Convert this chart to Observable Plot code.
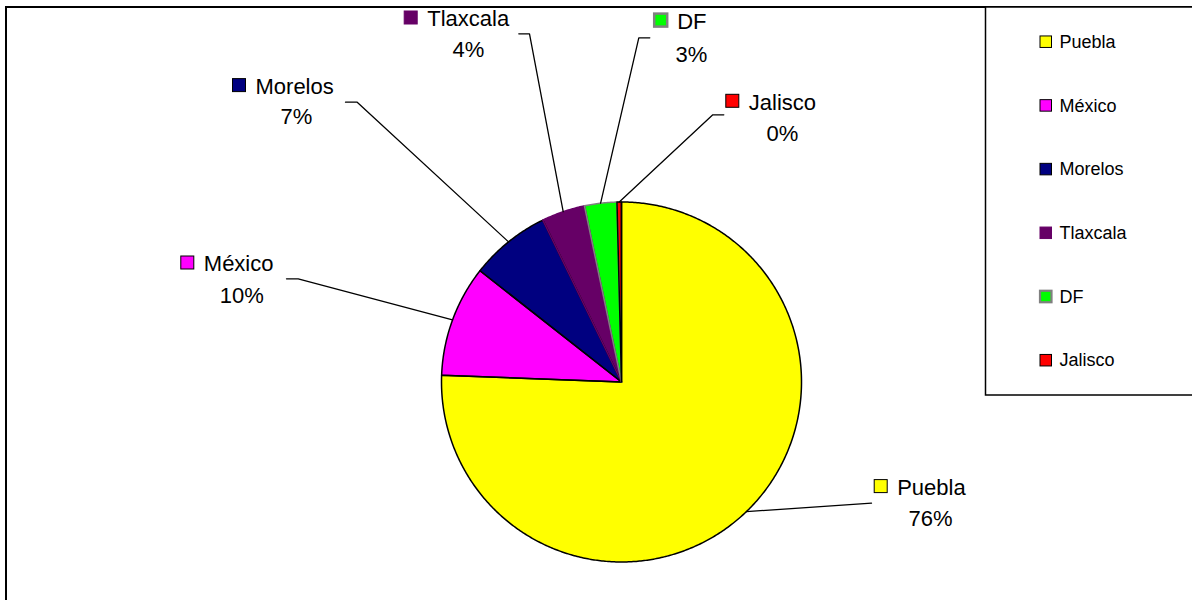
<!DOCTYPE html>
<html><head><meta charset="utf-8">
<script src="https://cdn.jsdelivr.net/npm/d3@7"></script>
<script src="https://cdn.jsdelivr.net/npm/@observablehq/plot@0.6"></script>
<style>html,body{margin:0;padding:0;background:#fff;overflow:hidden} svg{display:block}</style>
</head><body><div id="chart"></div>
<script>
// ---- data ----
const states = ["Puebla", "México", "Morelos", "Tlaxcala", "DF", "Jalisco"];
const shares = [75.6, 10.0, 7.2, 3.9, 2.9, 0.4];
const fillColors = ["#ffff00", "#ff00ff", "#000080", "#660066", "#00ff00", "#ff0000"];
const edgeColors = ["#000000", "#000000", "#000000", "#660066", "#808080", "#000000"];

// ---- layout ----
const W = 1192, H = 600, CX = 621, CY = 381.5, R = 180;
const FONT = "'Liberation Sans', Arial, sans-serif";
// label layout (pixel positions): name start x / baseline, percent centre x / baseline, leader elbow & end
const labelPos = {
  "Puebla":   {nx: 896.7, ny: 494.3, px: 930,   py: 525.7, elbow: null,          end: [871, 502.7]},
  "México":   {nx: 203.3, ny: 270.7, px: 241.3, py: 302.3, elbow: [297.7, 278.3], end: [286, 278.3]},
  "Morelos":  {nx: 255,   ny: 93.3,  px: 296,   py: 123.3, elbow: [356.7, 101.7], end: [345, 101.7]},
  "Tlaxcala": {nx: 426.7, ny: 25.7,  px: 468,   py: 56.7,  elbow: [529, 33.3],    end: [518.3, 33.3]},
  "DF":       {nx: 676.7, ny: 28.3,  px: 691,   py: 61,    elbow: [638.3, 37.3],  end: [649.3, 37.3]},
  "Jalisco":  {nx: 748.3, ny: 109,   px: 782,   py: 140,   elbow: [712.3, 114.3], end: [723.3, 114.3]}
};
const legendX = 1040, legendTop = 41.7, legendStep = 63.7;

const total = d3.sum(shares);
const arcs = d3.pie().sort(null).value(d => d)(shares);

// slice polygons
const slicePts = [];
arcs.forEach((p, i) => {
  const n = Math.max(2, Math.ceil((p.endAngle - p.startAngle) / (Math.PI / 360)));
  slicePts.push({name: states[i], x: CX, y: CY});
  for (let k = 0; k <= n; k++) {
    const a = p.startAngle + (p.endAngle - p.startAngle) * k / n;
    slicePts.push({name: states[i], x: CX + R * Math.sin(a), y: CY - R * Math.cos(a)});
  }
  slicePts.push({name: states[i], x: CX, y: CY});
});

// leader lines
const leaderPts = [];
arcs.forEach((p, i) => {
  const L = labelPos[states[i]];
  const a = (p.startAngle + p.endAngle) / 2;
  leaderPts.push({name: states[i], x: CX + R * Math.sin(a), y: CY - R * Math.cos(a)});
  if (L.elbow) leaderPts.push({name: states[i], x: L.elbow[0], y: L.elbow[1]});
  leaderPts.push({name: states[i], x: L.end[0], y: L.end[1]});
});

const labels = states.map((s, i) => ({name: s, pct: Math.round(shares[i] / total * 100 + 1e-9) + "%", ...labelPos[s]}));
const legendItems = states.map((s, i) => ({name: s, y: legendTop + i * legendStep}));

const marks = [];
// chart frame
marks.push(Plot.rect([0], {x1: 6, x2: 1197, y1: 7, y2: 605, fill: "none", stroke: "#000", strokeWidth: 2}));
// pie fills
marks.push(Plot.line(slicePts, {x: "x", y: "y", z: "name", fill: "name", stroke: null, curve: "linear"}));
// slice outlines
states.forEach((s, i) => {
  marks.push(Plot.line(slicePts.filter(d => d.name === s), {x: "x", y: "y", stroke: edgeColors[i], strokeWidth: 1.5, strokeLinejoin: "round"}));
});
// leaders
marks.push(Plot.line(leaderPts, {x: "x", y: "y", z: "name", stroke: "#000", strokeWidth: 1.3}));
// label swatches
states.forEach((s, i) => {
  marks.push(Plot.rect([labels[i]], {x1: d => d.nx - 22.5, x2: d => d.nx - 9.5, y1: d => d.ny - 14.7, y2: d => d.ny - 1.7,
    fill: "name", stroke: edgeColors[i], strokeWidth: s === "DF" ? 2.5 : 1}));
});
marks.push(Plot.text(labels, {x: "nx", y: "ny", text: "name", textAnchor: "start", lineAnchor: "bottom", fontSize: 22, fill: "#000"}));
marks.push(Plot.text(labels, {x: "px", y: "py", text: "pct", textAnchor: "middle", lineAnchor: "bottom", fontSize: 22, fill: "#000"}));
// legend box
marks.push(Plot.rect([0], {x1: 985.5, x2: 1198, y1: 7, y2: 395, fill: "#fff", stroke: "#000", strokeWidth: 1.5}));
states.forEach((s, i) => {
  marks.push(Plot.rect([legendItems[i]], {x1: legendX, x2: legendX + 11.5, y1: d => d.y - 5.75, y2: d => d.y + 5.75,
    fill: "name", stroke: edgeColors[i], strokeWidth: s === "DF" ? 2.2 : 1}));
});
marks.push(Plot.text(legendItems, {x: legendX + 19, y: "y", text: "name", textAnchor: "start", lineAnchor: "middle", fontSize: 18, fill: "#000"}));

const chart = Plot.plot({
  width: W, height: H,
  marginTop: 0, marginRight: 0, marginBottom: 0, marginLeft: 0,
  x: {type: "linear", domain: [0, W], range: [0, W], axis: null},
  y: {type: "linear", domain: [0, H], range: [0, H], axis: null},
  color: {domain: states, range: fillColors},
  style: {fontFamily: FONT, background: "#fff", color: "#000", overflow: "hidden"},
  marks
});
document.getElementById("chart").appendChild(chart);
</script>
</body></html>
